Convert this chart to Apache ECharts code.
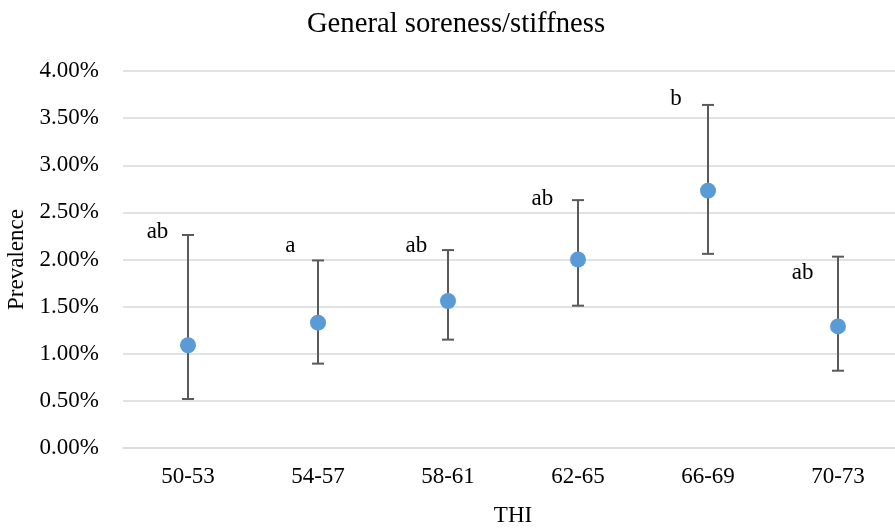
<!DOCTYPE html>
<html>
<head>
<meta charset="utf-8">
<script src="https://cdn.jsdelivr.net/npm/echarts@6/dist/echarts.min.js"></script>
<style>
html,body{margin:0;padding:0;background:#fff;}
#chart{width:895px;height:529px;}
</style>
</head>
<body>
<div id="chart"></div>
<script>
// Data (prevalence in %)
var categories = ['50-53', '54-57', '58-61', '62-65', '66-69', '70-73'];
var prevalence = [1.09, 1.33, 1.56, 2.00, 2.73, 1.29];
var upperCI = [2.26, 1.99, 2.10, 2.63, 3.64, 2.03];
var lowerCI = [0.52, 0.895, 1.15, 1.51, 2.06, 0.82];
var letters = ['ab', 'a', 'ab', 'ab', 'b', 'ab'];
var yTicks = [0, 0.5, 1, 1.5, 2, 2.5, 3, 3.5, 4];

// Style: letter label offsets (px) relative to the upper cap
var letterOffsets = [[-30.5, -3.5], [-27.6, -14.5], [-31.6, -4], [-35.6, -1.4], [-32, -6], [-35.3, 16]];

var FONT = '"Liberation Serif", "Times New Roman", serif';
var chart = echarts.init(document.getElementById('chart'));

var errData = categories.map(function (c, i) { return [i, lowerCI[i], upperCI[i]]; });

chart.setOption({
  animation: false,
  backgroundColor: '#ffffff',
  title: {
    text: 'General soreness/stiffness',
    left: 451, top: 5, textAlign: 'center',
    textStyle: { fontFamily: FONT, fontSize: 28.7, fontWeight: 'normal', color: '#000' }
  },
  grid: { left: 123, top: 71, width: 780, height: 377, containLabel: false, outerBoundsMode: 'none' },
  xAxis: {
    type: 'category',
    data: categories,
    boundaryGap: true,
    name: 'THI',
    nameLocation: 'middle',
    nameGap: 56,
    nameTextStyle: { fontFamily: FONT, fontSize: 23, color: '#000' },
    axisLine: { show: true, lineStyle: { color: '#d9d9d9', width: 1.5 } },
    axisTick: { show: false },
    axisLabel: { fontFamily: FONT, fontSize: 23, color: '#000', margin: 17 }
  },
  yAxis: {
    type: 'value',
    min: yTicks[0], max: yTicks[yTicks.length - 1], interval: 0.5,
    name: 'Prevalence',
    nameLocation: 'middle',
    nameGap: 88,
    nameTextStyle: { fontFamily: FONT, fontSize: 23, color: '#000' },
    axisLine: { show: false },
    axisTick: { show: false },
    splitLine: { lineStyle: { color: '#d9d9d9', width: 1.5 } },
    axisLabel: {
      fontFamily: FONT, fontSize: 23, color: '#000', margin: 24,
      formatter: function (v) { return v.toFixed(2) + '%'; }
    }
  },
  series: [
    {
      type: 'custom',
      data: errData,
      z: 2,
      renderItem: function (params, api) {
        var i = api.value(0);
        var lo = api.coord([i, api.value(1)]);
        var hi = api.coord([i, api.value(2)]);
        var hw = 6;
        var style = { stroke: '#5a5a5a', lineWidth: 2 };
        var off = letterOffsets[params.dataIndex];
        return {
          type: 'group',
          children: [
            { type: 'line', shape: { x1: hi[0], y1: hi[1], x2: lo[0], y2: lo[1] }, style: style },
            { type: 'line', shape: { x1: hi[0] - hw, y1: hi[1], x2: hi[0] + hw, y2: hi[1] }, style: style },
            { type: 'line', shape: { x1: lo[0] - hw, y1: lo[1], x2: lo[0] + hw, y2: lo[1] }, style: style },
            { type: 'text', x: hi[0] + off[0], y: hi[1] + off[1],
              style: { text: letters[params.dataIndex], fill: '#000', font: '23px ' + FONT,
                       textAlign: 'center', textVerticalAlign: 'middle' } }
          ]
        };
      }
    },
    {
      type: 'scatter',
      data: prevalence,
      symbol: 'circle',
      symbolSize: 16,
      z: 3,
      itemStyle: { color: '#5b9bd5', opacity: 1 }
    }
  ]
});
</script>
</body>
</html>
